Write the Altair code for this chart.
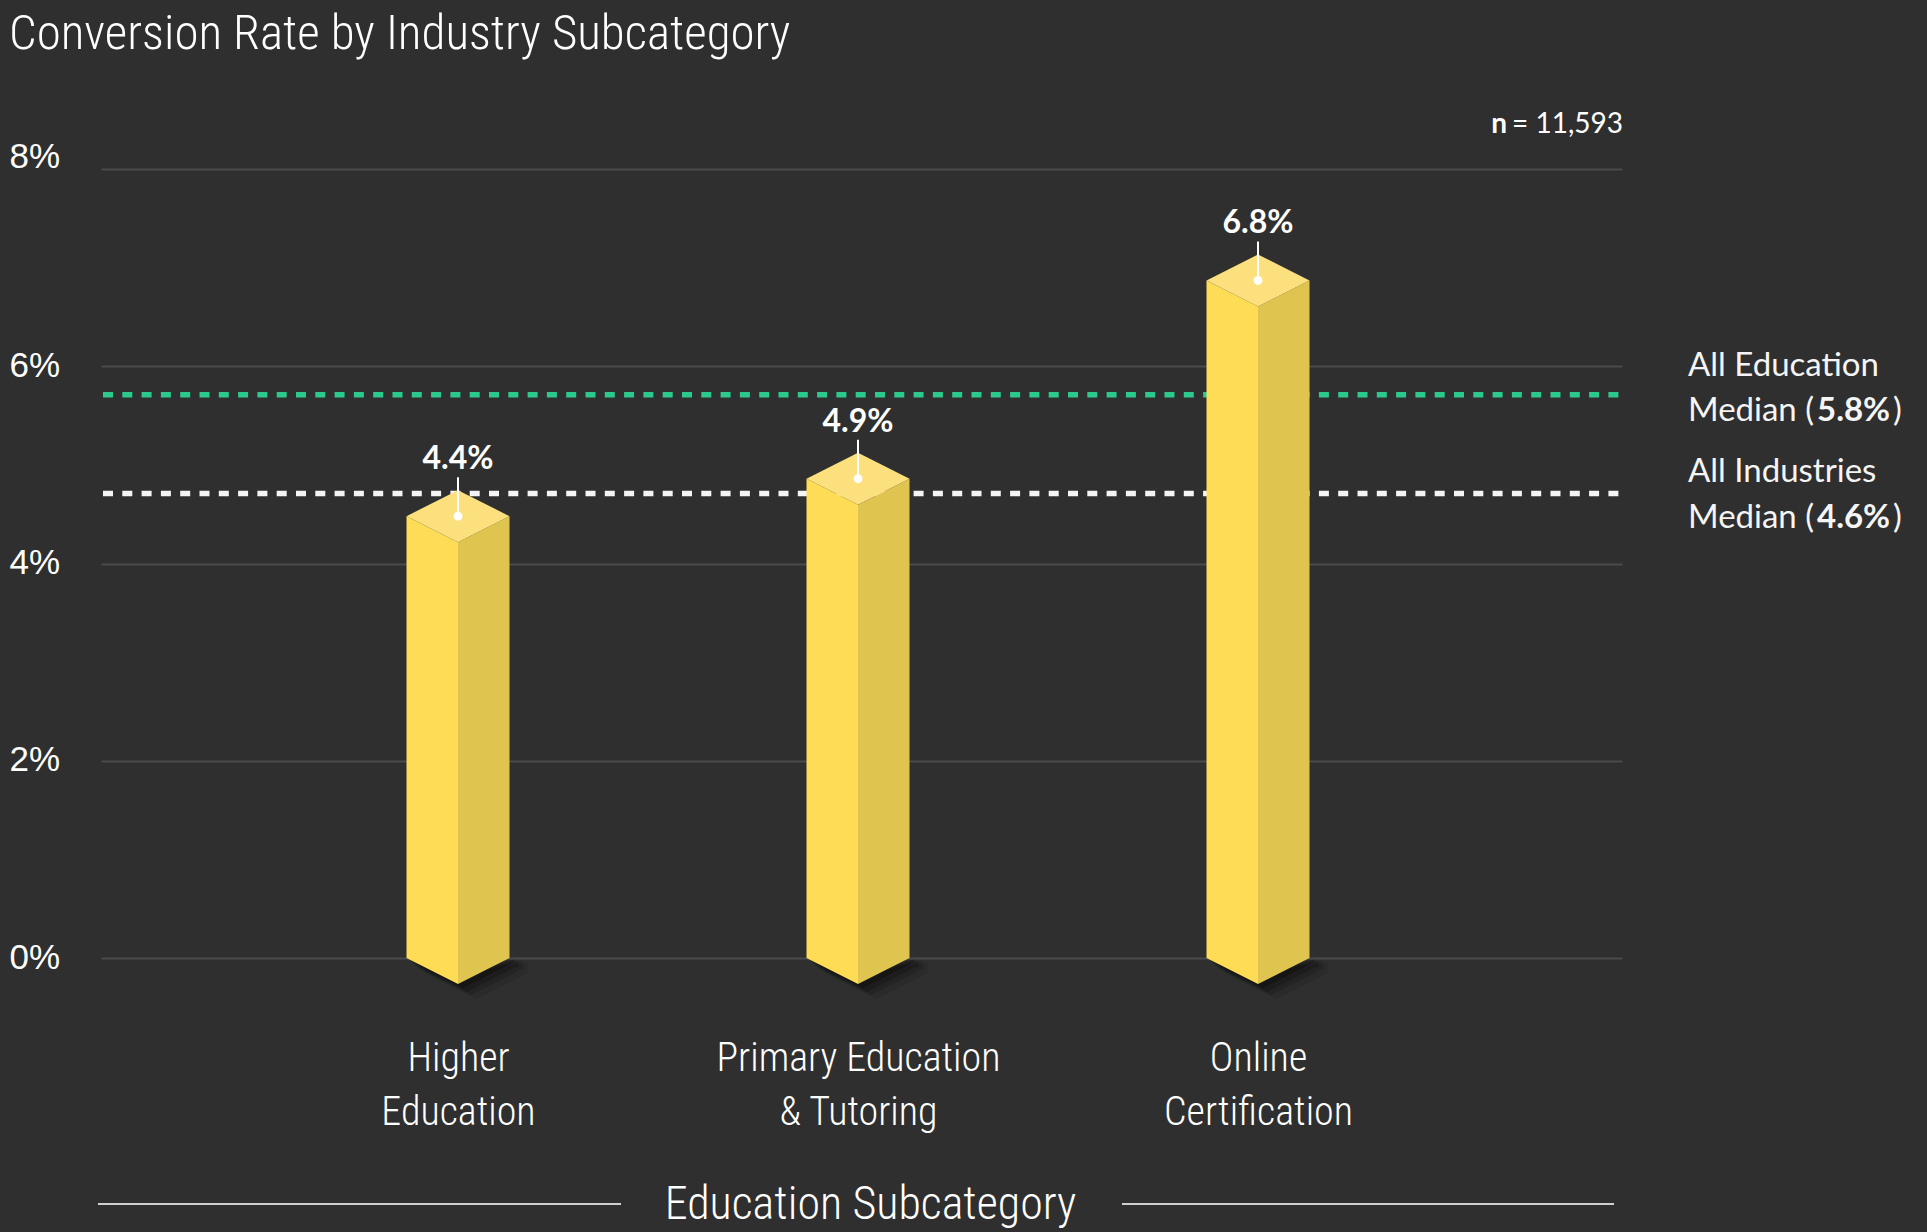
import json
import altair as alt
import pandas as pd

# ---------------- data ----------------
categories = ["Higher\nEducation", "Primary Education\n& Tutoring", "Online\nCertification"]
conversion_rate = [4.48, 4.86, 6.87]          # bar tops (%)
value_labels = ["4.4%", "4.9%", "6.8%"]
median_names = ["All Education", "All Industries"]
median_values = [5.71, 4.71]
median_labels = ["5.8%", "4.6%"]
median_colors = ["#2BC98C", "#F4F4F4"]
sample_size = "= 11,593"
y_ticks = [0, 2, 4, 6, 8]
chart_title = "Conversion Rate by Industry Subcategory"
x_title = "Education Subcategory"

# ---------------- layout / style ----------------
W, H = 1521, 789
PAD = {"left": 101, "top": 169, "right": 305, "bottom": 274}
Y_MAX = 8
PX_PER_UNIT = H / Y_MAX
X_STEP = 400
X0 = 357
X_DOMAIN = [-X0 / X_STEP, (W - X0) / X_STEP]
HW = 51.5 / X_STEP          # half bar width in x units
DH = 26 / PX_PER_UNIT       # isometric half height in y units
ANN_DY = [(-29, 16), (-21, 25)]   # pixel offsets of the two annotation lines per median

BG = "#2f2f2f"
GRID = "#4b4b4b"
C_LEFT = "#FFDC55"
C_RIGHT = "#DFC54F"
C_TOP = "#FCE07D"
NARROW = ("Noto Sans Condensed Light, Noto Sans Condensed, Roboto Condensed, "
          "Liberation Sans Narrow, DejaVu Sans Condensed, sans-serif")
SANS = "Lato, Noto Sans, sans-serif"

idx = list(range(len(categories)))

x_scale = alt.Scale(domain=X_DOMAIN, nice=False, zero=False)
y_scale = alt.Scale(domain=[0, Y_MAX], nice=False, zero=False)

label_expr = "split(" + json.dumps(categories) + "[datum.value], '\\n')"

x_axis = alt.Axis(
    values=idx, labelExpr=label_expr, grid=False, ticks=False, domain=False,
    labelFont=NARROW, labelFontSize=40, labelFontWeight=300, labelLineHeight=54,
    labelColor="#FFFFFF", labelPadding=80, labelBaseline="top", labelLimit=0,
    labelFlush=False, labelOverlap=False, title=x_title, titleFont=NARROW,
    titleFontSize=46, titleFontWeight=300, titleColor="#FFFFFF", titleX=769, titleY=246,
    titleBaseline="middle", titleAlign="center",
)
y_axis = alt.Axis(
    values=y_ticks, labelExpr="datum.value + '%'", grid=True, gridColor=GRID,
    gridWidth=2, domain=False, ticks=False, labelAlign="left", labelPadding=92,
    labelBaseline="middle",
    labelOffset={"condition": {"test": "datum.value == 8", "value": -13}, "value": -1},
    labelFont="Liberation Sans", labelFontSize=35,
    labelColor="#FFFFFF", labelFlush=False, labelOverlap=False, title="",
)


def X(f):
    return alt.X(f"{f}:Q", scale=x_scale, axis=x_axis)


def Y(f):
    return alt.Y(f"{f}:Q", scale=y_scale, axis=y_axis, stack=None)


# ---------------- geometry tables derived from the data ----------------
left_rows, right_rows, top_rows = [], [], []
for i, v in zip(idx, conversion_rate):
    left_rows += [dict(bar=i, x=i - HW, y=v, y2=0.0), dict(bar=i, x=i, y=v - DH, y2=-DH)]
    right_rows += [dict(bar=i, x=i, y=v - DH, y2=-DH), dict(bar=i, x=i + HW, y=v, y2=0.0)]
    top_rows += [dict(bar=i, x=i - HW, y=v, y2=v), dict(bar=i, x=i, y=v + DH, y2=v - DH),
                 dict(bar=i, x=i + HW, y=v, y2=v)]

shadow_levels = [(18, 15, 0.10), (13, 11, 0.14), (9, 8, 0.18), (5, 4, 0.25)]
shadow_layers = []
for dxp, dyp, op in shadow_levels:
    dxu, dyu = dxp / X_STEP, dyp / PX_PER_UNIT
    rows = []
    for i in idx:
        rows += [dict(bar=i, x=i - HW + dxu, y=0.0, y2=-dyu),
                 dict(bar=i, x=i + dxu, y=-DH * 0.5, y2=-DH - dyu),
                 dict(bar=i, x=i + HW + dxu, y=-dyu * 0.3, y2=-dyu)]
    shadow_layers.append(
        alt.Chart(pd.DataFrame(rows)).mark_area(orient="vertical", color="#000000", opacity=op)
        .encode(x=X("x"), y=Y("y"), y2="y2:Q", detail="bar:N")
    )


def face(rows, color):
    return alt.Chart(pd.DataFrame(rows)).mark_area(orient="vertical", color=color).encode(
        x=X("x"), y=Y("y"), y2="y2:Q", detail="bar:N")


bars_df = pd.DataFrame({"x": idx, "v": conversion_rate, "label": value_labels})
med_df = pd.DataFrame({"m": median_values, "name": median_names, "lab": median_labels,
                       "color": median_colors})

medians = alt.Chart(med_df).mark_rule(strokeDash=[10, 9.3], strokeWidth=5.5).encode(
    y=Y("m"), x=alt.value(2), x2=alt.value(W + 5), color=alt.Color("color:N", scale=None))

value_rule = alt.Chart(bars_df).mark_rule(color="#FFFFFF", strokeWidth=2, y2Offset=-39).encode(
    x=X("x"), y=Y("v"), y2="v:Q")
value_dot = alt.Chart(bars_df).mark_circle(size=80, color="#FFFFFF", opacity=1).encode(
    x=X("x"), y=Y("v"))
value_text = alt.Chart(bars_df).mark_text(
    dy=-57, font=SANS, fontWeight="bold", fontSize=32, color="#FFFFFF", baseline="middle",
    align="center").encode(x=X("x"), y=Y("v"), text="label:N")

ann_kw = dict(font=SANS, fontSize=33, color="#F5F5F5", baseline="middle", align="left")
ann_layers = []
for k, (dy1, dy2) in enumerate(ANN_DY):
    d = med_df.iloc[[k]]
    ann_layers += [
        alt.Chart(d).mark_text(dy=dy1, **ann_kw).encode(
            y=Y("m"), x=alt.value(1587), text="name:N"),
        alt.Chart(d).mark_text(dy=dy2, **ann_kw).encode(
            y=Y("m"), x=alt.value(1587), text=alt.value("Median (")),
        alt.Chart(d).mark_text(dy=dy2, fontWeight="bold", **ann_kw).encode(
            y=Y("m"), x=alt.value(1716), text="lab:N"),
        alt.Chart(d).mark_text(dy=dy2, **ann_kw).encode(
            y=Y("m"), x=alt.value(1792), text=alt.value(")")),
    ]

one = pd.DataFrame({"a": [0]})
n_bold = alt.Chart(one).mark_text(font=SANS, fontSize=28, fontWeight="bold", color="#FFFFFF",
                                  align="right", baseline="middle").encode(
    x=alt.value(1406), y=alt.value(-44), text=alt.value("n"))
n_rest = alt.Chart(one).mark_text(font=SANS, fontSize=28, color="#FFFFFF",
                                  align="right", baseline="middle").encode(
    x=alt.value(1522), y=alt.value(-44), text=alt.value(sample_size))
title = alt.Chart(one).mark_text(font=NARROW, fontSize=49, fontWeight=300, color="#FFFFFF",
                                 align="left", baseline="middle").encode(
    x=alt.value(-92), y=alt.value(-135), text=alt.value(chart_title))
flank_l = alt.Chart(one).mark_rule(color="#D0D0D0", strokeWidth=2).encode(
    x=alt.value(-3), x2=alt.value(520), y=alt.value(1035))
flank_r = alt.Chart(one).mark_rule(color="#D0D0D0", strokeWidth=2).encode(
    x=alt.value(1021), x2=alt.value(1513), y=alt.value(1035))

chart = alt.layer(
    medians, *shadow_layers,
    face(left_rows, C_LEFT), face(right_rows, C_RIGHT), face(top_rows, C_TOP),
    value_rule, value_dot, value_text,
    *ann_layers, n_bold, n_rest, title, flank_l, flank_r,
).properties(
    width=W, height=H, padding=PAD, autosize=alt.AutoSizeParams(type="none"), background=BG,
).configure_view(stroke=None)

chart.save("out.html", embed_options={"renderer": "svg", "actions": False})
